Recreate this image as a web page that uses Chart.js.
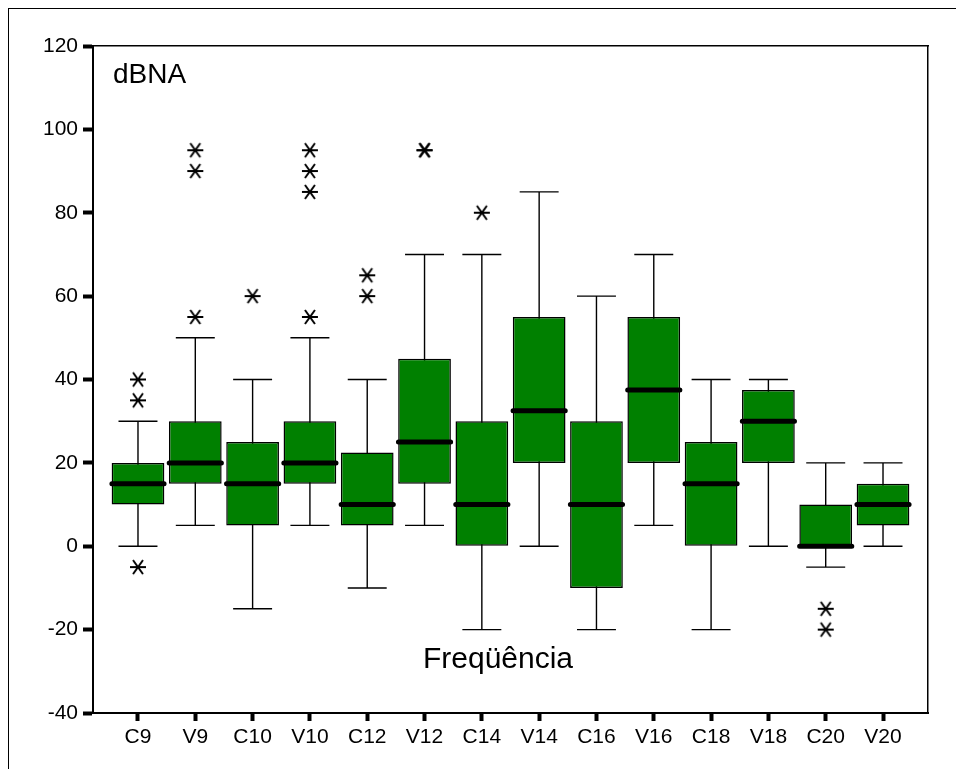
<!DOCTYPE html>
<html>
<head>
<meta charset="utf-8">
<script src="https://cdn.jsdelivr.net/npm/chart.js@4.4.0/dist/chart.umd.min.js"></script>
<style>
  html, body { margin: 0; padding: 0; background: #fff; overflow: hidden; }
  #marco { position: absolute; left: 8px; top: 8px; width: 1000px; height: 800px; border-left: 1px solid #000; border-top: 1px solid #000; }
  #contenedor { position: absolute; left: 0; top: 0; width: 956px; height: 769px; }
</style>
</head>
<body>
<div id="marco"></div>
<div id="contenedor"><canvas id="grafico" width="956" height="769"></canvas></div>
<script>
var categorias = ["C9", "V9", "C10", "V10", "C12", "V12", "C14", "V14", "C16", "V16", "C18", "V18", "C20", "V20"];
var minimos  = [0, 5, -15, 5, -10, 5, -20, 0, -20, 5, -20, 0, -5, 0];
var q1       = [10, 15, 5, 15, 5, 15, 0, 20, -10, 20, 0, 20, 0, 5];
var medianas = [15, 20, 15, 20, 10, 25, 10, 32.5, 10, 37.5, 15, 30, 0, 10];
var q3       = [20, 30, 25, 30, 22.5, 45, 30, 55, 30, 55, 25, 37.5, 10, 15];
var maximos  = [30, 50, 40, 50, 40, 70, 70, 85, 60, 70, 40, 40, 20, 20];
var atipicos = [[40, 35, -5], [55, 90, 95], [60], [55, 85, 90, 95], [60, 65], [95, 95], [80], [], [], [], [], [], [-15, -20], []];
var ejeY = { min: -40, max: 120, paso: 20 };

var fuente = "'Liberation Sans', Arial, sans-serif";

// asterisco para los valores atipicos
function crearAsterisco() {
    var c = document.createElement("canvas");
    c.width = 20; c.height = 18;
    var g = c.getContext("2d");
    g.strokeStyle = "#000";
    g.lineWidth = 2;
    g.beginPath();
    g.moveTo(2, 9); g.lineTo(18, 9);
    g.moveTo(5, 2); g.lineTo(15, 16);
    g.moveTo(15, 2); g.lineTo(5, 16);
    g.stroke();
    return c;
}

var cajas = [], bigotes = [], lineasMediana = [], puntos = [];
categorias.forEach(function (cat, i) {
    cajas.push({ x: i, y: [q1[i], q3[i]] });

    bigotes.push({ x: i, y: minimos[i] }, { x: i, y: maximos[i] }, { x: i, y: null });
    bigotes.push({ x: i - 0.34, y: minimos[i] }, { x: i + 0.34, y: minimos[i] }, { x: i, y: null });
    bigotes.push({ x: i - 0.34, y: maximos[i] }, { x: i + 0.34, y: maximos[i] }, { x: i, y: null });

    lineasMediana.push({ x: i - 0.455, y: medianas[i] }, { x: i + 0.455, y: medianas[i] }, { x: i, y: null });

    atipicos[i].forEach(function (v) { puntos.push({ x: i, y: v }); });
});

var textos = {
    id: "textos",
    afterDraw: function (chart) {
        var ctx = chart.ctx, area = chart.chartArea;
        ctx.save();
        ctx.fillStyle = "#000";
        ctx.textBaseline = "alphabetic";
        ctx.textAlign = "left";
        ctx.font = "28px " + fuente;
        ctx.fillText("dBNA", area.left + 20, area.top + 37);
        ctx.font = "30px " + fuente;
        ctx.textAlign = "center";
        ctx.fillText("Freqüência", 498, 668);
        ctx.restore();
    }
};

new Chart(document.getElementById("grafico"), {
    type: "bar",
    data: {
        datasets: [
            {
                type: "bar",
                data: cajas,
                backgroundColor: "#008000",
                borderColor: "#000",
                borderWidth: 1.5,
                borderSkipped: false,
                barPercentage: 0.92,
                categoryPercentage: 1,
                grouped: false,
                order: 2
            },
            {
                type: "line",
                data: bigotes,
                borderColor: "#000",
                borderWidth: 1.4,
                pointRadius: 0,
                spanGaps: false,
                order: 3
            },
            {
                type: "line",
                data: lineasMediana,
                borderColor: "#000",
                borderWidth: 5,
                borderCapStyle: "round",
                pointRadius: 0,
                spanGaps: false,
                order: 1
            },
            {
                type: "scatter",
                data: puntos,
                pointStyle: crearAsterisco(),
                pointRadius: 8,
                order: 0
            }
        ]
    },
    options: {
        responsive: false,
        animation: false,
        events: [],
        layout: { padding: { left: 0, top: 46, right: 28, bottom: 0 } },
        plugins: {
            legend: { display: false },
            tooltip: { enabled: false },
            title: { display: false }
        },
        scales: {
            x: {
                type: "linear",
                position: "bottom",
                offset: false,
                min: -0.785,
                max: 13.785,
                afterFit: function (s) { s.height = 56; },
                border: { display: true, color: "#000", width: 2 },
                grid: { offset: false, drawOnChartArea: false, drawTicks: true, tickLength: 8, tickWidth: 4, tickColor: "#000" },
                ticks: {
                    stepSize: 1,
                    includeBounds: false,
                    autoSkip: false,
                    maxRotation: 0,
                    padding: 4,
                    color: "#000",
                    font: { family: fuente, size: 21 },
                    callback: function (v) { return categorias[v]; }
                }
            },
            y: {
                type: "linear",
                position: "left",
                min: ejeY.min,
                max: ejeY.max,
                afterFit: function (s) { s.width = 93; },
                border: { display: true, color: "#000", width: 2 },
                grid: { drawOnChartArea: false, drawTicks: true, tickLength: 10, tickWidth: 4, tickColor: "#000" },
                ticks: {
                    stepSize: ejeY.paso,
                    padding: 5,
                    color: "#000",
                    font: { family: fuente, size: 21 }
                }
            },
            xArriba: {
                type: "linear",
                position: "top",
                offset: false,
                min: -0.785,
                max: 13.785,
                border: { display: true, color: "#000", width: 1.5 },
                grid: { display: false, drawTicks: false },
                ticks: { display: false }
            },
            yDerecha: {
                type: "linear",
                position: "right",
                min: ejeY.min,
                max: ejeY.max,
                border: { display: true, color: "#000", width: 1.5 },
                grid: { display: false, drawTicks: false },
                ticks: { display: false }
            }
        }
    },
    plugins: [textos]
});
</script>
</body>
</html>
